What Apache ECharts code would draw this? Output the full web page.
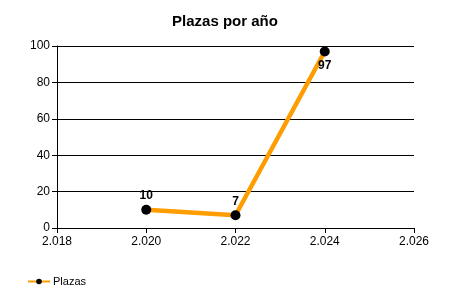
<!DOCTYPE html>
<html><head><meta charset="utf-8">
<script src="https://cdn.jsdelivr.net/npm/echarts@6/dist/echarts.min.js"></script>
<style>html,body{margin:0;padding:0;background:#fff}#c{width:450px;height:300px}</style>
</head><body><div id="c"></div>
<script>
const years = [2020, 2022, 2024];
const plazas = [10, 7, 97];
const labelPos = ['top', 'top', 'bottom'];
const xMin = 2018, xMax = 2026, xStep = 2;
const yMin = 0, yMax = 100, yStep = 20;

const fmtYear = v => { const s = String(v); return s.slice(0, 1) + '.' + s.slice(1); };
const font = 'Liberation Sans, Arial, sans-serif';

const chart = echarts.init(document.getElementById('c'));
chart.setOption({
  animation: false,
  title: { text: 'Plazas por año', left: 'center', top: 9,
    textStyle: { fontFamily: font, fontSize: 15, fontWeight: 'bold', color: '#000' } },
  grid: { left: 57, right: 36, top: 46, bottom: 72 },
  legend: { left: 22, top: 271, itemWidth: 22, itemHeight: 7, itemGap: 4,
    data: ['Plazas'],
    textStyle: { fontFamily: font, fontSize: 11, color: '#000', padding: [0,0,0,-2] } },
  xAxis: { type: 'value', min: xMin, max: xMax, interval: xStep,
    axisLine: { show: true, onZero: false, lineStyle: { color: '#000', width: 1 } },
    axisTick: { show: true, inside: false, length: 5, lineStyle: { color: '#000' } },
    splitLine: { show: false },
    axisLabel: { formatter: fmtYear, fontFamily: font, fontSize: 12, color: '#000', margin: 8 } },
  yAxis: { type: 'value', min: yMin, max: yMax, interval: yStep,
    axisLine: { show: true, lineStyle: { color: '#000', width: 1 } },
    axisTick: { show: true, inside: false, length: 5, lineStyle: { color: '#000' } },
    splitLine: { show: true, lineStyle: { color: '#000', width: 1 } },
    axisLabel: { fontFamily: font, fontSize: 12, color: '#000', margin: 7 } },
  series: [{
    name: 'Plazas', type: 'line',
    data: years.map((y, i) => ({ value: [y, plazas[i]],
      label: { position: labelPos[i] } })),
    symbol: 'circle', symbolSize: 10,
    itemStyle: { color: '#000' },
    lineStyle: { color: '#FF9C00', width: 4.5 },
    label: { show: true, fontFamily: font, fontSize: 12, fontWeight: 'bold', color: '#000', distance: 3,
      formatter: p => p.value[1] }
  }]
});
</script></body></html>
